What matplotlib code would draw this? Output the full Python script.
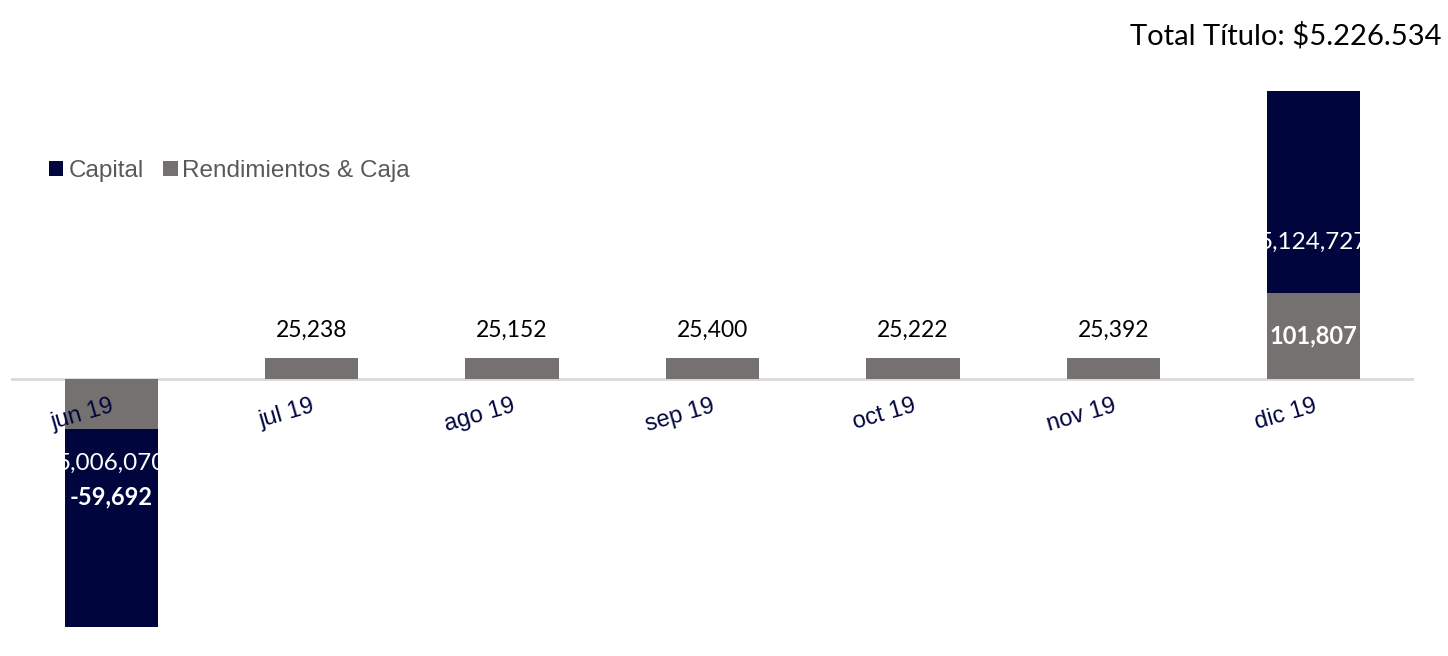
import matplotlib
matplotlib.use("Agg")
import matplotlib.pyplot as plt
import numpy as np

# ---- data ----
months = ["jun 19", "jul 19", "ago 19", "sep 19", "oct 19", "nov 19", "dic 19"]
rendimientos = [-59692, 25238, 25152, 25400, 25222, 25392, 101807]
capital = [-5006070, 0, 0, 0, 0, 0, 5124727]
total_titulo = "Total Título: $5.226.534"

# capital is drawn on a compressed visual scale (as in the original chart)
CAPITAL_SCALE = 0.0466

NAVY = "#00063D"
GRAY = "#767171"

fig = plt.figure(figsize=(14.48, 6.56), dpi=100)
ax = fig.add_axes([11 / 1448, 0, 1403 / 1448, 1])
x = np.arange(len(months))
ax.set_xlim(-0.5, len(months) - 0.5)
units_per_px = 1183.0
ax.set_ylim(-(656 - 379) * units_per_px, 379 * units_per_px)

width = 0.465
rend = np.array(rendimientos, dtype=float)
cap_disp = np.array(capital, dtype=float) * CAPITAL_SCALE

ax.axhline(0, color="#D9D9D9", lw=2, zorder=1)
gbars = ax.bar(x, rend, width, color=GRAY, zorder=2, label="Rendimientos & Caja")
cbars = ax.bar(x, cap_disp, width, bottom=rend, color=NAVY, zorder=2, label="Capital")

for a in ["top", "right", "left", "bottom"]:
    ax.spines[a].set_visible(False)
ax.set_xticks([])
ax.set_yticks([])

def fmt(v):
    return f"{v:,.0f}"

for i, (r, c) in enumerate(zip(rendimientos, capital)):
    if c == 0:
        ax.annotate(fmt(r), (x[i], r), xytext=(0, 12), textcoords="offset points",
                    ha="center", va="bottom", fontsize=16.5, family="Lato", color="black")

# jun labels (inside navy bar, clipped to bar)
t1 = ax.text(x[0], -(463 - 379) * units_per_px, fmt(abs(capital[0])), ha="center", va="center",
             fontsize=17.5, family="Lato", color="white", zorder=3)
t1.set_clip_path(cbars[0])
t2 = ax.text(x[0], -(497 - 379) * units_per_px, fmt(rendimientos[0]), ha="center", va="center",
             fontsize=17, family="Lato", weight="bold", color="white", zorder=3)
t2.set_clip_path(cbars[0])
# dic labels
t3 = ax.text(x[6], (379 - 242) * units_per_px, fmt(capital[6]), ha="center", va="center",
             fontsize=17.5, family="Lato", color="white", zorder=3)
t3.set_clip_path(cbars[6])
t4 = ax.text(x[6], rendimientos[6] / 2, fmt(rendimientos[6]), ha="center", va="center",
             fontsize=17, family="Lato", weight="bold", color="white", zorder=3)
t4.set_clip_path(gbars[6])

# category labels
for i, m in enumerate(months):
    ax.text(x[i] - 0.005, -16 * units_per_px, m, rotation=16, rotation_mode="anchor",
            ha="right", va="top", fontsize=17, family="Liberation Sans", color=NAVY, zorder=4)

# legend
handles = [cbars, gbars]
leg = fig.legend(handles, ["Capital", "Rendimientos & Caja"], loc="center left",
                 bbox_to_anchor=(27 / 1448, 1 - 171 / 656), ncol=2, frameon=False,
                 handlelength=0.6, handleheight=0.6, handletextpad=0.2, columnspacing=0.8,
                 prop={"family": "Liberation Sans", "size": 17.5})
for t in leg.get_texts():
    t.set_color("#595959")

fig.text(1441 / 1448, 1 - 36 / 656, total_titulo, ha="right", va="center",
         fontsize=21, family="Lato", color="black")

fig.savefig("out.png", dpi=100)
